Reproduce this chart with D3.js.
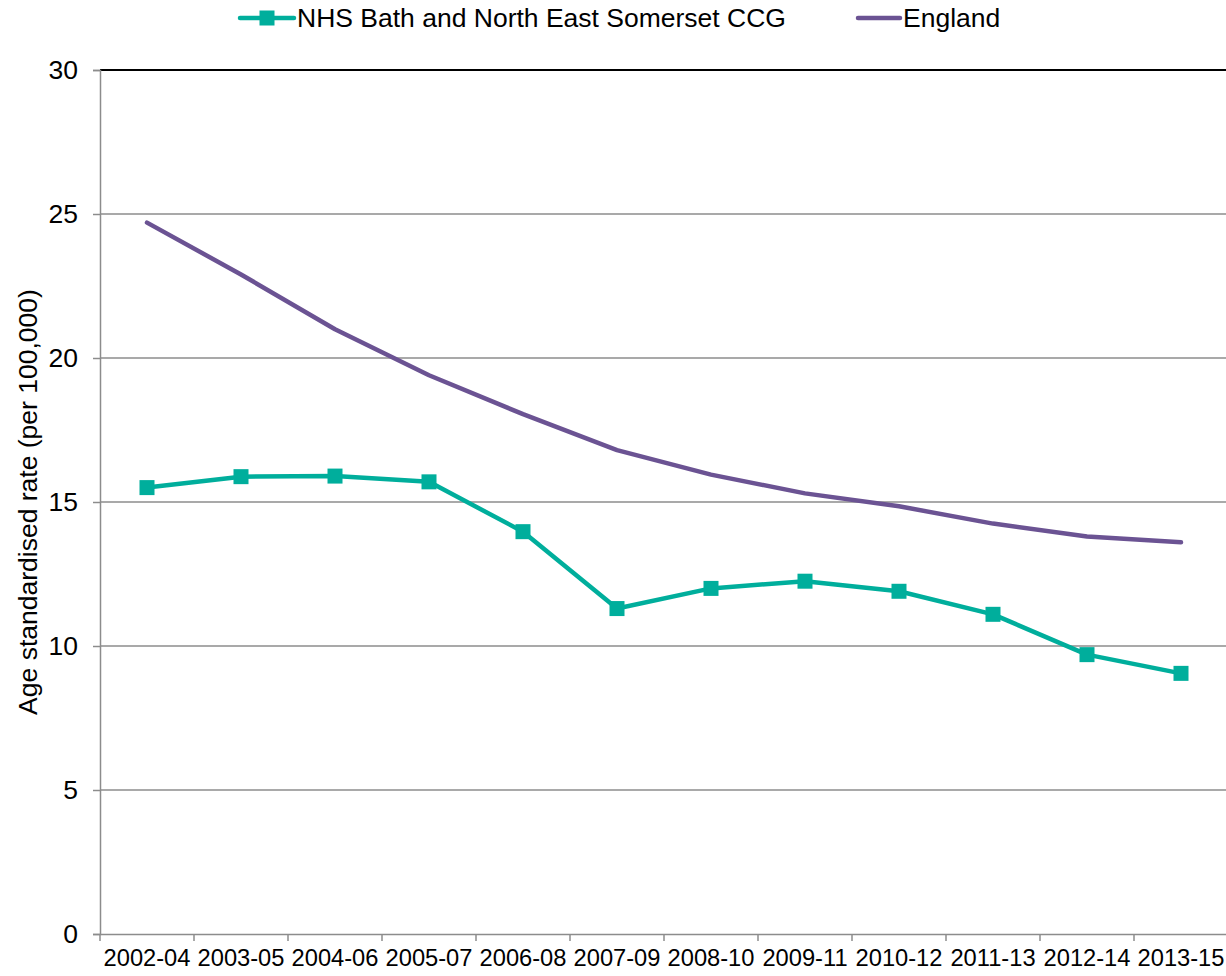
<!DOCTYPE html>
<html><head><meta charset="utf-8">
<script src="https://cdn.jsdelivr.net/npm/d3@7"></script>
<style>body{margin:0;background:#fff;} text{font-family:"Liberation Sans",Arial,sans-serif;}</style>
</head><body><svg id="c" width="1226" height="976"></svg>
<script>
const categories = ["2002-04","2003-05","2004-06","2005-07","2006-08","2007-09","2008-10","2009-11","2010-12","2011-13","2012-14","2013-15"];
const bathValues = [15.5,15.88,15.9,15.7,13.97,11.3,12.0,12.25,11.9,11.1,9.7,9.05];
const englandValues = [24.7,22.9,21.0,19.4,18.05,16.8,15.95,15.3,14.85,14.25,13.8,13.6];
const yTicks = [0,5,10,15,20,25,30];
const seriesNames = ["NHS Bath and North East Somerset CCG","England"];

const svg = d3.select("#c");
const m = {l:100, r:1228, t:70, b:934};
const x = d3.scaleBand().domain(categories).range([m.l, m.r]);
const y = d3.scaleLinear().domain([0,30]).range([m.b, m.t]);
const teal = "#00AE9C", purple = "#6B5393";
const FONT = "Liberation Sans, Arial, sans-serif";

// gridlines
svg.append("g").selectAll("line").data(yTicks.filter(d=>d>0 && d<30)).join("line")
  .attr("x1",m.l).attr("x2",1226).attr("y1",d=>y(d)).attr("y2",d=>y(d))
  .attr("stroke","#8c8c8c").attr("stroke-width",1.5);
svg.append("line").attr("x1",m.l).attr("x2",1226).attr("y1",y(30)).attr("y2",y(30))
  .attr("stroke","#000").attr("stroke-width",2);

// y axis
const ya = svg.append("g").attr("transform",`translate(${m.l},0)`)
  .call(d3.axisLeft(y).tickValues(yTicks).tickSize(7).tickPadding(15));
ya.select(".domain").attr("stroke","#8c8c8c").attr("stroke-width",1.5);
ya.selectAll(".tick line").attr("stroke","#8c8c8c").attr("stroke-width",1.5);
ya.selectAll("text").attr("font-size",26.5).attr("fill","#000").attr("font-family",FONT);

// x axis
const xa = svg.append("g").attr("transform",`translate(0,${m.b})`)
  .call(d3.axisBottom(x).tickSize(0).tickPadding(15));
xa.select(".domain").attr("stroke","#8c8c8c").attr("stroke-width",1.5);
xa.selectAll("text").attr("font-size",23.7).attr("fill","#000").attr("font-family",FONT);
const bounds = categories.map(c=>x(c)).concat([m.r]);
xa.selectAll(".bt").data(bounds).join("line").attr("class","bt")
  .attr("x1",d=>d).attr("x2",d=>d).attr("y1",0).attr("y2",7)
  .attr("stroke","#8c8c8c").attr("stroke-width",1.5);

// y title
svg.append("text").attr("transform",`translate(37,${(m.t+m.b)/2}) rotate(-90)`)
  .attr("text-anchor","middle").attr("font-size",26.5).text("Age standardised rate (per 100,000)");

const cx = c => x(c) + x.bandwidth()/2;
const line = d3.line().x((d,i)=>cx(categories[i])).y(d=>y(d));

svg.append("path").datum(englandValues).attr("d",line).attr("fill","none")
  .attr("stroke",purple).attr("stroke-width",4.5).attr("stroke-linejoin","round").attr("stroke-linecap","round");
svg.append("path").datum(bathValues).attr("d",line).attr("fill","none")
  .attr("stroke",teal).attr("stroke-width",4.5).attr("stroke-linejoin","round").attr("stroke-linecap","round");
svg.append("g").selectAll("rect").data(bathValues).join("rect")
  .attr("x",(d,i)=>cx(categories[i])-7.5).attr("y",d=>y(d)-7.5)
  .attr("width",15).attr("height",15).attr("fill",teal);

// legend
const lg = svg.append("g");
lg.append("line").attr("x1",240).attr("x2",294).attr("y1",18).attr("y2",18).attr("stroke",teal).attr("stroke-width",4.5).attr("stroke-linecap","round");
lg.append("rect").attr("x",259.5).attr("y",10.5).attr("width",15).attr("height",15).attr("fill",teal);
lg.append("text").attr("x",297).attr("y",27).attr("font-size",26.5).text(seriesNames[0]);
lg.append("line").attr("x1",858).attr("x2",900).attr("y1",18).attr("y2",18).attr("stroke",purple).attr("stroke-width",4.5).attr("stroke-linecap","round");
lg.append("text").attr("x",903).attr("y",27).attr("font-size",26.5).text(seriesNames[1]);
</script></body></html>
